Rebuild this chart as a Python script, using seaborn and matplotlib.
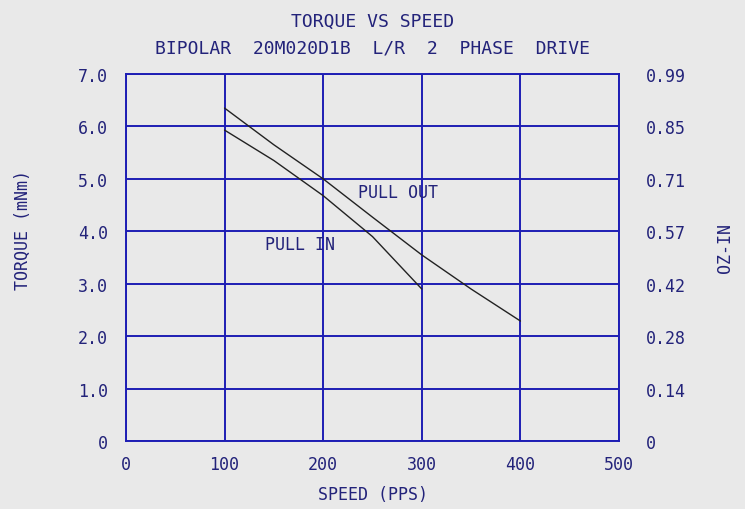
import seaborn as sns
import matplotlib.pyplot as plt
import pandas as pd

# values
pull_out_speed = [100, 150, 200, 250, 300, 350, 400]
pull_out_torque = [6.35, 5.65, 5.0, 4.27, 3.55, 2.9, 2.29]
pull_in_speed = [100, 150, 200, 250, 300]
pull_in_torque = [5.93, 5.35, 4.68, 3.9, 2.9]

x_ticks = [0, 100, 200, 300, 400, 500]
y_ticks = [0, 1, 2, 3, 4, 5, 6, 7]
y_labels = ['0', '1.0', '2.0', '3.0', '4.0', '5.0', '6.0', '7.0']
oz_labels = ['0', '0.14', '0.28', '0.42', '0.57', '0.71', '0.85', '0.99']

blue = '#1e1eb4'
text_blue = '#23237a'
bg = '#e9e9e9'

df = pd.concat([
    pd.DataFrame({'speed': pull_out_speed, 'torque': pull_out_torque, 'curve': 'PULL OUT'}),
    pd.DataFrame({'speed': pull_in_speed, 'torque': pull_in_torque, 'curve': 'PULL IN'}),
])

sns.set_style('white')
plt.rcParams['font.family'] = ['DejaVu Sans Mono']

fig = plt.figure(figsize=(7.45, 5.10), dpi=100, facecolor=bg)
ax = fig.add_axes([0.169, 0.133, 0.662, 0.72], facecolor=bg)

sns.lineplot(data=df, x='speed', y='torque', units='curve', estimator=None,
             color='#222222', linewidth=1.0, ax=ax, sort=False)

ax.set_xlim(0, 500)
ax.set_ylim(0, 7)
ax.set_xticks(x_ticks)
ax.set_yticks(y_ticks)
ax.set_yticklabels(y_labels)
ax.grid(True, color=blue, linewidth=1.4)
ax.set_axisbelow(True)
for s in ax.spines.values():
    s.set_color(blue)
    s.set_linewidth(1.4)
ax.tick_params(axis='y', length=0, colors=text_blue, labelsize=12, pad=13)
ax.tick_params(axis='x', length=0, colors=text_blue, labelsize=12, pad=10)

ax.set_xlabel('SPEED (PPS)', color=text_blue, fontsize=12, va='center')
ax.xaxis.set_label_coords(0.5, -0.144)
ax.set_ylabel('TORQUE (mNm)', color=text_blue, fontsize=12, va='center')
ax.yaxis.set_label_coords(-0.209, 0.578)

fig.text(0.5, 0.958, 'TORQUE VS SPEED', color=text_blue, fontsize=13,
         ha='center', va='center')
fig.text(0.5, 0.905, 'BIPOLAR  20M020D1B  L/R  2  PHASE  DRIVE', color=text_blue,
         fontsize=13, ha='center', va='center')

ax2 = ax.twinx()
ax2.set_ylim(0, 7)
ax2.set_yticks(y_ticks)
ax2.set_yticklabels(oz_labels)
ax2.tick_params(length=0, colors=text_blue, labelsize=12, pad=19)
for s in ax2.spines.values():
    s.set_visible(False)
ax2.set_ylabel('OZ-IN', color=text_blue, fontsize=12, rotation=90, va='center')
ax2.yaxis.set_label_coords(1.215, 0.529)

ax.text(235, 4.75, 'PULL OUT', color=text_blue, fontsize=12, va='center')
ax.text(141, 3.76, 'PULL IN', color=text_blue, fontsize=12, va='center')

plt.savefig('out.png', dpi=100, facecolor=bg)
